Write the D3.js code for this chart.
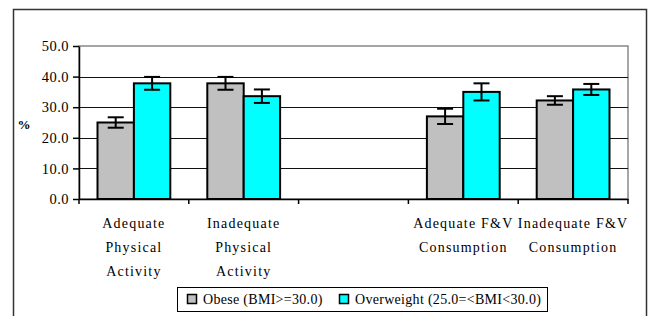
<!DOCTYPE html>
<html>
<head>
<meta charset="utf-8">
<script src="https://cdn.jsdelivr.net/npm/d3@7"></script>
<style>
  body { margin: 0; background: #fff; }
</style>
</head>
<body>
<script>
const categories = ['Adequate|Physical|Activity', 'Inadequate|Physical|Activity', '', 'Adequate F&V|Consumption', 'Inadequate F&V|Consumption'];
const seriesNames = ['Obese (BMI>=30.0)', 'Overweight (25.0=<BMI<30.0)'];
const obese = [25.0, 37.8, null, 27.0, 32.2];
const obeseErr = [1.7, 2.1, null, 2.5, 1.4];
const overweight = [37.8, 33.6, null, 35.0, 35.8];
const overweightErr = [2.1, 2.2, null, 2.8, 1.8];
const yTicks = [0, 10, 20, 30, 40, 50];
const colors = ['#c0c0c0', '#00ffff'];

const FONT = 'Liberation Serif';
const W = 652, H = 316;
const margin = { top: 46, right: 24, bottom: 117, left: 79 };
const width = W - margin.left - margin.right;
const height = H - margin.top - margin.bottom;

const svg = d3.select('body').append('svg')
  .attr('width', W)
  .attr('height', H)
  .attr('font-family', FONT);

// outer chart border
svg.append('rect')
  .attr('x', 13.5).attr('y', 9.5)
  .attr('width', 633).attr('height', 320)
  .attr('fill', '#fff')
  .attr('stroke', '#333')
  .attr('stroke-width', 1.5);

const g = svg.append('g')
  .attr('transform', `translate(${margin.left},${margin.top})`);

const x = d3.scaleBand()
  .domain(d3.range(categories.length))
  .range([0, width]);

const y = d3.scaleLinear()
  .domain([0, 50])
  .range([height, 0]);

// plot area border
g.append('rect')
  .attr('x', 0).attr('y', 0)
  .attr('width', width).attr('height', height)
  .attr('fill', '#fff')
  .attr('stroke', '#888')
  .attr('stroke-width', 1.5);

// gridlines
g.selectAll('.grid')
  .data(yTicks.filter(d => d > 0 && d < 50))
  .enter().append('line')
  .attr('x1', 0).attr('x2', width)
  .attr('y1', d => Math.round(y(d)) + 0.5)
  .attr('y2', d => Math.round(y(d)) + 0.5)
  .attr('stroke', '#111')
  .attr('stroke-width', 1);

// y axis
const yAxis = g.append('g')
  .call(d3.axisLeft(y).tickValues(yTicks).tickFormat(d3.format('.1f')).tickSize(6).tickSizeOuter(0))
  .attr('font-family', FONT);
yAxis.select('.domain').attr('stroke', '#000').attr('stroke-width', 1.5);
yAxis.selectAll('.tick line').attr('stroke', '#000').attr('stroke-width', 1.5);
yAxis.selectAll('.tick text')
  .attr('x', -10)
  .attr('font-family', FONT)
  .attr('font-size', 14.5)
  .attr('letter-spacing', 0.5)
  .attr('fill', '#000');

// x axis
const xAxis = g.append('g')
  .attr('transform', `translate(0,${height})`)
  .call(d3.axisBottom(x).tickValues([]).tickSizeOuter(0));
xAxis.select('.domain').attr('stroke', '#000').attr('stroke-width', 1.5);

g.selectAll('.xtick')
  .data(d3.range(categories.length + 1))
  .enter().append('line')
  .attr('x1', d => d * x.step()).attr('x2', d => d * x.step())
  .attr('y1', height).attr('y2', height + 5)
  .attr('stroke', '#000')
  .attr('stroke-width', 1.5);

// category labels
categories.forEach((c, i) => {
  if (!c) return;
  const t = g.append('text')
    .attr('x', x(i) + x.bandwidth() / 2)
    .attr('y', height + 29)
    .attr('text-anchor', 'middle')
    .attr('font-family', FONT)
    .attr('font-size', 14)
    .attr('letter-spacing', 1.2);
  c.split('|').forEach((line, k) => {
    t.append('tspan')
      .attr('x', x(i) + x.bandwidth() / 2)
      .attr('dy', k === 0 ? 0 : 24)
      .text(line);
  });
});

// bars
const inner = d3.scaleBand()
  .domain([0, 1])
  .range([18.5, x.bandwidth() - 18.5]);

const series = [
  { vals: obese, errs: obeseErr },
  { vals: overweight, errs: overweightErr }
];

series.forEach((s, si) => {
  const data = s.vals.map((v, i) => ({ i, v, e: s.errs[i] })).filter(d => d.v != null);

  g.selectAll('.bar' + si)
    .data(data)
    .enter().append('rect')
    .attr('x', d => x(d.i) + inner(si))
    .attr('y', d => y(d.v))
    .attr('width', inner.bandwidth())
    .attr('height', d => height - y(d.v))
    .attr('fill', colors[si])
    .attr('stroke', '#000')
    .attr('stroke-width', 2);

  const eb = g.selectAll('.err' + si)
    .data(data)
    .enter().append('g')
    .attr('stroke', '#000')
    .attr('stroke-width', 2);

  const cx = d => x(d.i) + inner(si) + inner.bandwidth() / 2;
  eb.append('line')
    .attr('x1', cx).attr('x2', cx)
    .attr('y1', d => y(d.v + d.e)).attr('y2', d => y(d.v - d.e));
  eb.append('line')
    .attr('x1', d => cx(d) - 8).attr('x2', d => cx(d) + 8)
    .attr('y1', d => y(d.v + d.e)).attr('y2', d => y(d.v + d.e));
  eb.append('line')
    .attr('x1', d => cx(d) - 8).attr('x2', d => cx(d) + 8)
    .attr('y1', d => y(d.v - d.e)).attr('y2', d => y(d.v - d.e));
});

// y axis title
svg.append('text')
  .attr('x', 24)
  .attr('y', 129)
  .attr('text-anchor', 'middle')
  .attr('font-family', FONT)
  .attr('font-size', 13)
  .attr('font-weight', 'bold')
  .text('%');

// legend
const legend = svg.append('g')
  .attr('transform', 'translate(177,287)');

legend.append('rect')
  .attr('x', 0.5).attr('y', 0.5)
  .attr('width', 370).attr('height', 24)
  .attr('fill', '#fff')
  .attr('stroke', '#000')
  .attr('stroke-width', 1);

const legendX = [10, 162];
seriesNames.forEach((name, i) => {
  legend.append('rect')
    .attr('x', legendX[i] + 0.5)
    .attr('y', 7.5)
    .attr('width', 9).attr('height', 9)
    .attr('fill', colors[i])
    .attr('stroke', '#000')
    .attr('stroke-width', 1.5);
  legend.append('text')
    .attr('x', legendX[i] + 16)
    .attr('y', 17)
    .attr('font-family', FONT)
    .attr('font-size', 14)
    .attr('letter-spacing', 0.3)
    .text(name);
});
</script>
</body>
</html>
